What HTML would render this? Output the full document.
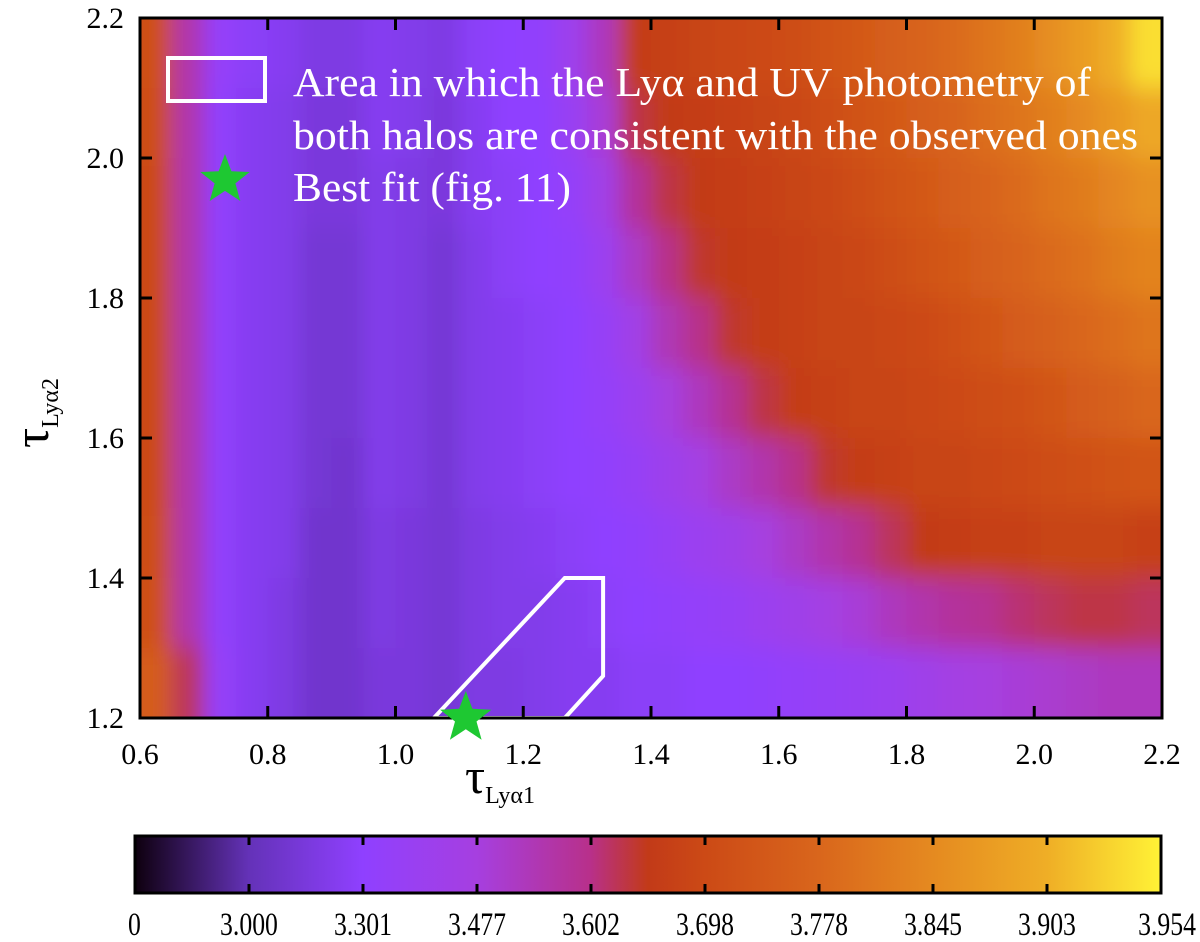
<!DOCTYPE html>
<html><head><meta charset="utf-8"><style>
body{margin:0;background:#fff;}
svg{display:block;font-family:"Liberation Serif",serif;}
</style></head><body>
<svg id="chart" width="1200" height="942" viewBox="0 0 1200 942">
<defs>
<clipPath id="plotclip"><rect x="140" y="18" width="1022" height="700"/></clipPath>
<filter id="smooth" x="-5%" y="-5%" width="110%" height="110%"><feGaussianBlur stdDeviation="10 12" edgeMode="duplicate"/></filter>
<linearGradient id="cbgrad" x1="0" x2="1" y1="0" y2="0">
<stop offset="0" stop-color="#0e000e"/>
<stop offset="0.111" stop-color="#6432b8"/>
<stop offset="0.222" stop-color="#8f40ff"/>
<stop offset="0.333" stop-color="#a63fe0"/>
<stop offset="0.444" stop-color="#b8308a"/>
<stop offset="0.5" stop-color="#c23a18"/>
<stop offset="0.556" stop-color="#cc4a16"/>
<stop offset="0.667" stop-color="#d9661c"/>
<stop offset="0.778" stop-color="#e58a20"/>
<stop offset="0.889" stop-color="#efae26"/>
<stop offset="1" stop-color="#fff236"/>
</linearGradient>
</defs>
<g clip-path="url(#plotclip)"><g id="cells" filter="url(#smooth)"></g></g>
<g id="overlay" clip-path="url(#plotclip)"></g>
<rect x="140" y="18" width="1022" height="700" fill="none" stroke="#000" stroke-width="3"/>
<g id="axes"></g>
<g>
<rect x="168" y="58" width="97" height="43" fill="none" stroke="#fff" stroke-width="4"/>
<text x="293" y="96" font-size="41" fill="#fff" textLength="798" lengthAdjust="spacingAndGlyphs">Area in which the Lyα and UV photometry of</text>
<text x="293" y="149" font-size="41" fill="#fff" textLength="845" lengthAdjust="spacingAndGlyphs">both halos are consistent with the observed ones</text>
<polygon id="legstar" fill="#1ec832"/>
<text x="293" y="201" font-size="41" fill="#fff" textLength="278" lengthAdjust="spacingAndGlyphs">Best fit (fig. 11)</text>
</g>
<text x="465" y="793" font-size="50">τ<tspan font-size="24" dy="10">Lyα1</tspan></text>
<text transform="translate(48,448) rotate(-90)" font-size="50">τ<tspan font-size="24" dy="10">Lyα2</tspan></text>
<rect x="135" y="836" width="1026" height="57" fill="url(#cbgrad)" stroke="#000" stroke-width="3"/>
<g id="cbticks"></g>
</svg>
<script>
const xTicks=[0.6,0.8,1.0,1.2,1.4,1.6,1.8,2.0,2.2];
const yTicks=[1.2,1.4,1.6,1.8,2.0,2.2];
const cbLabels=["0","3.000","3.301","3.477","3.602","3.698","3.778","3.845","3.903","3.954"];
const colX0=[0.6,0.65,0.7,0.75,0.8,0.85,0.9,0.95,1.0,1.05,1.1,1.15,1.2,1.25,1.3,1.35,1.4,1.45,1.5,1.55,1.6,1.65,1.7,1.75,1.8,1.85,1.9,1.95,2.0,2.05,2.1,2.15];
const rowY0=[2.1,2.0,1.9,1.8,1.7,1.6,1.5,1.4,1.3,1.2];
// values in colorbar level units (0..9 = tick positions)
const r0=[5.2,3.6,2.2,1.9,1.8,1.6,1.6,1.8,1.7,1.6,1.9,2.0,2.1,2.6,3.4,4.6,4.7,4.8,4.9,5.0,5.1,5.3,5.5,5.7,5.9,6.1,6.4,6.7,7.1,7.5,8.0,8.7];
const r1=[5.1,3.6,2.1,1.8,1.7,1.5,1.5,1.8,1.7,1.5,1.8,2.0,2.0,2.4,3.1,4.3,4.5,4.6,4.7,4.8,4.9,5.1,5.3,5.5,5.7,5.9,6.2,6.4,6.7,7.0,7.4,7.8];
const r2=[5.0,3.6,2.1,1.8,1.7,1.5,1.5,1.7,1.6,1.5,1.8,1.9,2.0,2.2,2.8,3.8,4.3,4.5,4.6,4.7,4.8,4.9,5.1,5.3,5.5,5.7,5.9,6.1,6.4,6.6,6.9,7.2];
const r3=[5.0,3.6,2.1,1.8,1.7,1.4,1.4,1.7,1.6,1.4,1.7,1.9,2.0,2.1,2.5,3.3,4.0,4.4,4.5,4.6,4.7,4.8,4.9,5.1,5.3,5.5,5.7,5.9,6.1,6.3,6.6,6.8];
const r4=[5.0,3.6,2.1,1.8,1.7,1.4,1.4,1.7,1.6,1.4,1.7,1.8,1.9,2.0,2.3,2.8,3.5,4.0,4.4,4.6,4.7,4.8,4.8,4.9,5.0,5.2,5.4,5.6,5.8,6.0,6.2,6.4];
const r5=[5.0,3.6,2.1,1.8,1.7,1.4,1.4,1.7,1.6,1.4,1.7,1.8,1.9,2.0,2.2,2.5,3.0,3.4,3.9,4.3,4.6,4.7,4.8,4.8,4.9,5.0,5.1,5.2,5.4,5.6,5.8,6.0];
const r6=[5.0,3.6,2.1,1.8,1.7,1.4,1.3,1.7,1.6,1.4,1.7,1.8,1.9,2.0,2.1,2.3,2.6,2.9,3.3,3.6,4.0,4.4,4.6,4.7,4.8,4.8,4.9,5.0,5.1,5.2,5.3,5.4];
const r7=[5.1,3.6,2.1,1.8,1.7,1.3,1.3,1.6,1.5,1.4,1.6,1.7,1.8,1.9,2.0,2.1,2.3,2.5,2.7,3.0,3.3,3.6,3.9,4.2,4.5,4.6,4.7,4.7,4.8,4.8,4.8,4.7];
const r8=[5.2,3.6,2.1,1.8,1.6,1.3,1.3,1.6,1.5,1.4,1.6,1.7,1.7,1.8,1.9,2.0,2.1,2.2,2.3,2.5,2.7,2.9,3.1,3.4,3.6,3.8,3.9,4.1,4.2,4.3,4.3,4.2];
const r9=[5.6,4.2,2.2,1.8,1.6,1.3,1.3,1.5,1.5,1.4,1.6,1.6,1.7,1.8,1.8,1.9,1.9,2.0,2.0,2.1,2.2,2.3,2.4,2.5,2.7,2.9,3.0,3.1,3.2,3.3,3.4,3.4];
const rows=[r0,r1,r2,r3,r4,r5,r6,r7,r8,r9];
const regionX=[1.06,1.265,1.325,1.325,1.265];
const regionY=[1.2,1.4,1.4,1.26,1.2];
const bestX=[1.11], bestY=[1.2];

const NS="http://www.w3.org/2000/svg";
const X0=140,X1=1162,Y0=718,Y1=18;
const sx=v=>X0+(v-0.6)/(2.2-0.6)*(X1-X0);
const sy=v=>Y0-(v-1.2)/(2.2-1.2)*(Y0-Y1);
const stops=[[0,[14,0,14]],[1,[100,50,184]],[2,[143,64,255]],[3,[166,63,224]],[4,[184,48,138]],[4.5,[194,58,24]],[5,[204,74,22]],[6,[217,102,28]],[7,[229,138,32]],[8,[239,174,38]],[9,[255,242,54]]];
function cmap(v){v=Math.max(0,Math.min(9,v));for(let i=1;i<stops.length;i++){if(v<=stops[i][0]){const a=stops[i-1],b=stops[i];const t=(v-a[0])/(b[0]-a[0]);const c=a[1].map((q,k)=>Math.round(q+(b[1][k]-q)*t));return `rgb(${c[0]},${c[1]},${c[2]})`;}}return "rgb(255,242,54)";}
function mk(tag,at,parent){const e=document.createElementNS(NS,tag);for(const k in at)e.setAttribute(k,at[k]);parent.appendChild(e);return e;}
const cells=document.getElementById('cells');
rows.forEach((row,ri)=>{row.forEach((v,ci)=>{
 let xa=sx(colX0[ci]),xb=sx(colX0[ci]+0.05),ya=sy(rowY0[ri]+0.1),yb=sy(rowY0[ri]);
 if(ci===0)xa-=40; if(ci===row.length-1)xb+=40; if(ri===0)ya-=40; if(ri===rows.length-1)yb+=40;
 const r=mk('rect',{x:xa,y:ya,width:xb-xa+0.6,height:yb-ya+0.6,fill:cmap(v)},cells);
 
 
});});
const ov=document.getElementById('overlay');
const poly=mk('polygon',{points:regionX.map((x,i)=>sx(x)+','+sy(regionY[i])).join(' '),fill:'none',stroke:'#fff','stroke-width':4,'stroke-linejoin':'miter'},ov);


function starPts(cx,cy,R){const r=R*0.42;let p=[];for(let i=0;i<10;i++){const a=-Math.PI/2+i*Math.PI/5;const rr=i%2?r:R;p.push((cx+rr*Math.cos(a)).toFixed(1)+','+(cy+rr*Math.sin(a)).toFixed(1));}return p.join(' ');}
document.getElementById('legstar').setAttribute('points',starPts(225,180,26));
const svg=document.getElementById('chart');
bestX.forEach((x,i)=>{const s=mk('polygon',{points:starPts(sx(x),sy(bestY[i]),27),fill:'#1ec832'},svg);
 
 });
const axes=document.getElementById('axes');
xTicks.forEach(t=>{const x=sx(t);
 const l1=mk('line',{x1:x,x2:x,y1:Y0,y2:Y0-12,stroke:'#000','stroke-width':3},axes);
 
 
 mk('line',{x1:x,x2:x,y1:Y1,y2:Y1+12,stroke:'#000','stroke-width':3},axes);
 const tx=mk('text',{x:x,y:764,'font-size':30,'text-anchor':'middle'},axes);tx.textContent=t.toFixed(1);
 
 });
yTicks.forEach(t=>{const y=sy(t);
 const l=mk('line',{x1:X0,x2:X0+12,y1:y,y2:y,stroke:'#000','stroke-width':3},axes);
 
 
 mk('line',{x1:X1,x2:X1-12,y1:y,y2:y,stroke:'#000','stroke-width':3},axes);
 const tx=mk('text',{x:124,y:y+10,'font-size':30,'text-anchor':'end'},axes);tx.textContent=t.toFixed(1);
 
 });
const cb=document.getElementById('cbticks');
cbLabels.forEach((lab,i)=>{const x=135+i*114;
 if(i>0&&i<9){mk('line',{x1:x,x2:x,y1:836,y2:845,stroke:'#000','stroke-width':3},cb);mk('line',{x1:x,x2:x,y1:893,y2:884,stroke:'#000','stroke-width':3},cb);}
 const anchor=i===0?'start':(i===9?'end':'middle');
 const tx=mk('text',{x:i===0?128:(i===9?1196:x),y:935,'font-size':33,'text-anchor':anchor,transform:`translate(${i===0?128:(i===9?1196:x)},0) scale(0.78,1) translate(${-(i===0?128:(i===9?1196:x))},0)`},cb);tx.textContent=lab;
 
 });
</script>
</body></html>
